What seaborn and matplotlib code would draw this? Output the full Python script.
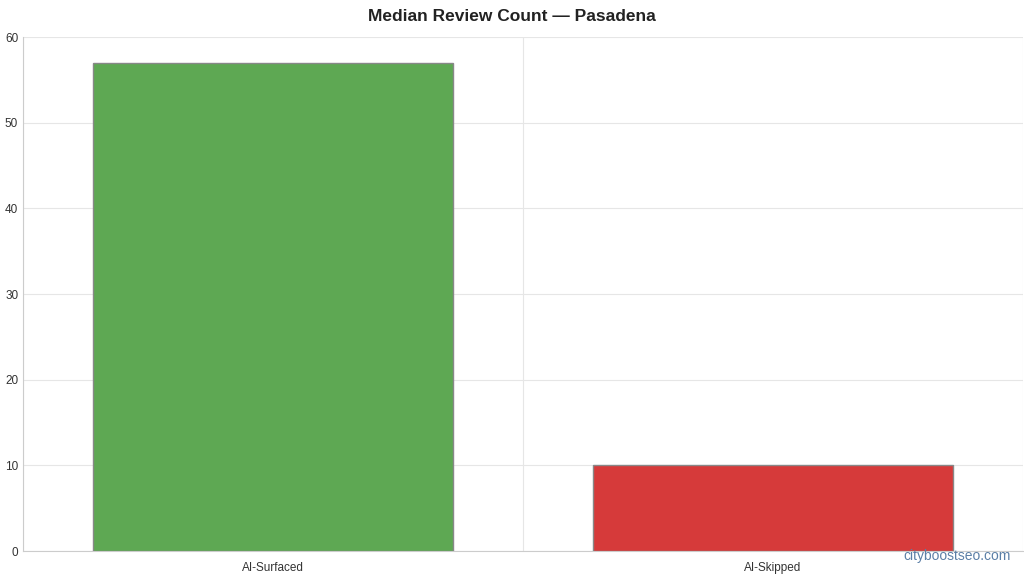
import matplotlib
matplotlib.use("Agg")
import matplotlib.pyplot as plt
import seaborn as sns
import pandas as pd

# Data
categories = ["AI-Surfaced", "AI-Skipped"]
median_reviews = [57, 10]
bar_colors = ["#5ea853", "#d63a3a"]

df = pd.DataFrame({"Group": categories, "Median": median_reviews})

sns.set_style("white")
plt.rcParams["font.family"] = ["Liberation Sans", "DejaVu Sans"]

fig = plt.figure(figsize=(10.24, 5.76), dpi=100)
ax = fig.add_axes([0.0225, 0.0434, 0.9766, 0.892])

sns.barplot(data=df, x="Group", y="Median", hue="Group", palette=bar_colors,
            width=0.72, edgecolor="#888888", linewidth=1, legend=False, ax=ax,
            saturation=1, zorder=3)

ax.set_xlim(-0.5, 1.5)
ax.set_ylim(0, 60)
ax.set_yticks(range(0, 61, 10))
ax.set_xticks([-0.5, 0.5, 1.5], minor=True)
ax.grid(which="minor", axis="x", color="#e6e6e6", linewidth=0.8, zorder=0)
ax.grid(which="major", axis="y", color="#e6e6e6", linewidth=0.8, zorder=0)
ax.tick_params(axis="both", which="both", length=0, labelsize=8.5, colors="#333333")
ax.tick_params(axis="x", pad=8)
ax.set_xlabel("")
ax.set_ylabel("")
for side in ["top", "right"]:
    ax.spines[side].set_visible(False)
for side in ["left", "bottom"]:
    ax.spines[side].set_color("#cccccc")
    ax.spines[side].set_linewidth(0.8)

fig.suptitle("Median Review Count \u2014 Pasadena", y=0.985, fontsize=12.5,
             fontweight="bold", color="#222222")
fig.text(0.987, 0.022, "cityboostseo.com", ha="right", va="bottom",
         fontsize=10, color="#5b7fa6")

fig.savefig("out.png", dpi=100)
